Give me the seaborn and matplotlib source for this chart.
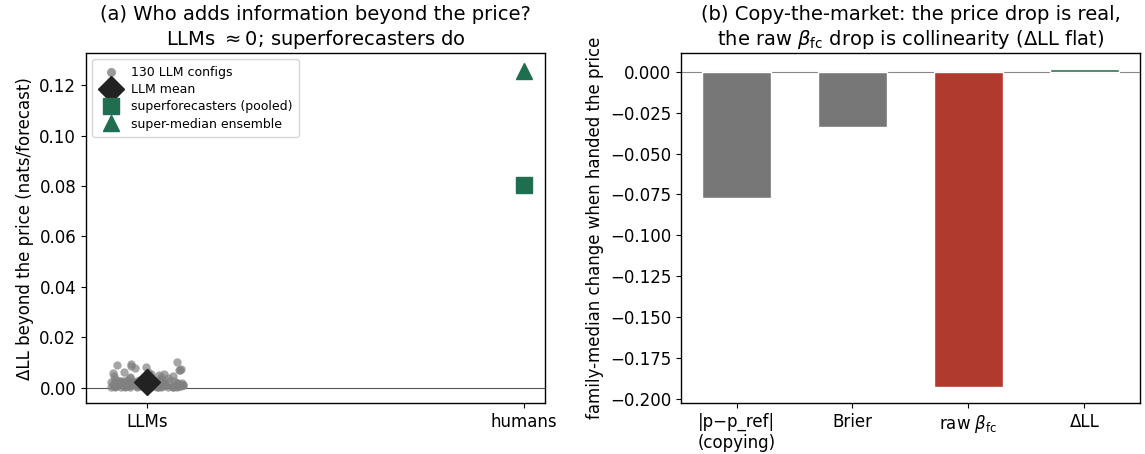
import numpy as np
import pandas as pd
import matplotlib
matplotlib.use("Agg")
import matplotlib.pyplot as plt
import seaborn as sns

# ---- data ----
llm_dll = [
    0.0030, 0.0008, 0.0012, 0.0021, 0.0005, 0.0017, 0.0026, 0.0009, 0.0014, 0.0033,
    0.0002, 0.0011, 0.0019, 0.0041, 0.0007, 0.0015, 0.0023, 0.0004, 0.0010, 0.0028,
    0.0086, 0.0013, 0.0006, 0.0018, 0.0035, 0.0001, 0.0022, 0.0016, 0.0009, 0.0071,
    0.0012, 0.0025, 0.0003, 0.0044, 0.0014, 0.0008, 0.0020, 0.0052, 0.0011, 0.0006,
    0.0031, 0.0017, 0.0002, 0.0095, 0.0013, 0.0024, 0.0007, 0.0015, 0.0038, 0.0010,
    0.0004, 0.0019, 0.0063, 0.0012, 0.0027, 0.0005, 0.0016, 0.0009, 0.0034, 0.0021,
    0.0001, 0.0014, 0.0078, 0.0008, 0.0023, 0.0011, 0.0046, 0.0006, 0.0017, 0.0029,
    0.0003, 0.0013, 0.0055, 0.0020, 0.0010, 0.0007, 0.0032, 0.0015, 0.0002, 0.0089,
    0.0018, 0.0012, 0.0026, 0.0005, 0.0040, 0.0009, 0.0016, 0.0022, 0.0068, 0.0004,
    0.0014, 0.0030, 0.0008, 0.0011, 0.0048, 0.0019, 0.0003, 0.0024, 0.0013, 0.0060,
    0.0007, 0.0017, 0.0036, 0.0010, 0.0001, 0.0021, 0.0015, 0.0083, 0.0006, 0.0027,
    0.0012, 0.0042, 0.0009, 0.0018, 0.0004, 0.0100, 0.0014, 0.0025, 0.0008, 0.0057,
    0.0011, 0.0020, 0.0005, 0.0033, 0.0016, 0.0002, 0.0074, 0.0013, 0.0023, 0.0007,
]
llm_mean = 0.0020
super_pooled = 0.0802
super_median_ens = 0.1255
group_labels = ["LLMs", "humans"]

bar_labels = ["|p\u2212p_ref|\n(copying)", "Brier", r"raw $\beta_{\rm fc}$", "\u0394LL"]
bar_values = [-0.0772, -0.0337, -0.1930, 0.0018]
bar_colors = ["#777777", "#777777", "#b03a2e", "#2a7352"]

GREEN = "#1f6e4f"

plt.rcdefaults()
sns.set_style("ticks")
plt.rcParams.update({
    "font.family": ["DejaVu Sans"],
    "text.color": "black", "axes.labelcolor": "black",
    "xtick.color": "black", "ytick.color": "black",
    "axes.edgecolor": "black", "axes.linewidth": 1.0,
    "xtick.major.size": 3.5, "ytick.major.size": 3.5,
})

fig, (ax1, ax2) = plt.subplots(1, 2, figsize=(11.45, 4.54), dpi=100)
fig.subplots_adjust(left=0.075, right=0.9956, bottom=0.112, top=0.883, wspace=0.296)

# ---- panel (a) ----
df_llm = pd.DataFrame({"x": [0] * len(llm_dll), "y": llm_dll})
np.random.seed(3)
sns.stripplot(data=df_llm, x="x", y="y", native_scale=True, jitter=0.1,
              color="#808080", alpha=0.7, size=6, linewidth=0, ax=ax1, zorder=2)
ax1.scatter([], [], color="#9a9a9a", s=30, label="130 LLM configs")
ax1.plot([0], [llm_mean], marker="D", color="#222222", markersize=13,
         linestyle="none", label="LLM mean", zorder=4)
ax1.plot([1], [super_pooled], marker="s", color=GREEN, markersize=11,
         linestyle="none", label="superforecasters (pooled)", zorder=4)
ax1.plot([1], [super_median_ens], marker="^", color=GREEN, markersize=11,
         linestyle="none", label="super-median ensemble", zorder=4)
ax1.axhline(0, color="#555555", lw=0.8, zorder=1)
ax1.set_xlim(-0.162, 1.056)
ax1.set_ylim(-0.0062, 0.1327)
ax1.set_xticks([0, 1])
ax1.set_xticklabels(group_labels, fontsize=12)
ax1.tick_params(axis="y", labelsize=12)
ax1.set_xlabel("")
ax1.set_ylabel("\u0394LL beyond the price (nats/forecast)", fontsize=12)
ax1.set_title("(a) Who adds information beyond the price?\nLLMs $\\approx 0$; superforecasters do",
              fontsize=14)
ax1.legend(loc="upper left", fontsize=9, frameon=True, handletextpad=0.6,
           borderpad=0.5, labelspacing=0.35)

# ---- panel (b) ----
df_bar = pd.DataFrame({"metric": bar_labels, "value": bar_values})
sns.barplot(data=df_bar, x="metric", y="value", hue="metric", palette=bar_colors,
            legend=False, width=0.6, saturation=1, ax=ax2, zorder=2)
ax2.axhline(0, color="#888888", lw=0.8, zorder=1)
ax2.set_xlim(-0.48, 3.48)
ax2.set_xlabel("")
ax2.set_ylabel("family-median change when handed the price", fontsize=12)
ax2.tick_params(axis="both", labelsize=12)
ax2.set_title("(b) Copy-the-market: the price drop is real,\n"
              r"the raw $\beta_{\rm fc}$ drop is collinearity ($\Delta$LL flat)",
              fontsize=14)

fig.savefig("out.png", dpi=100)
